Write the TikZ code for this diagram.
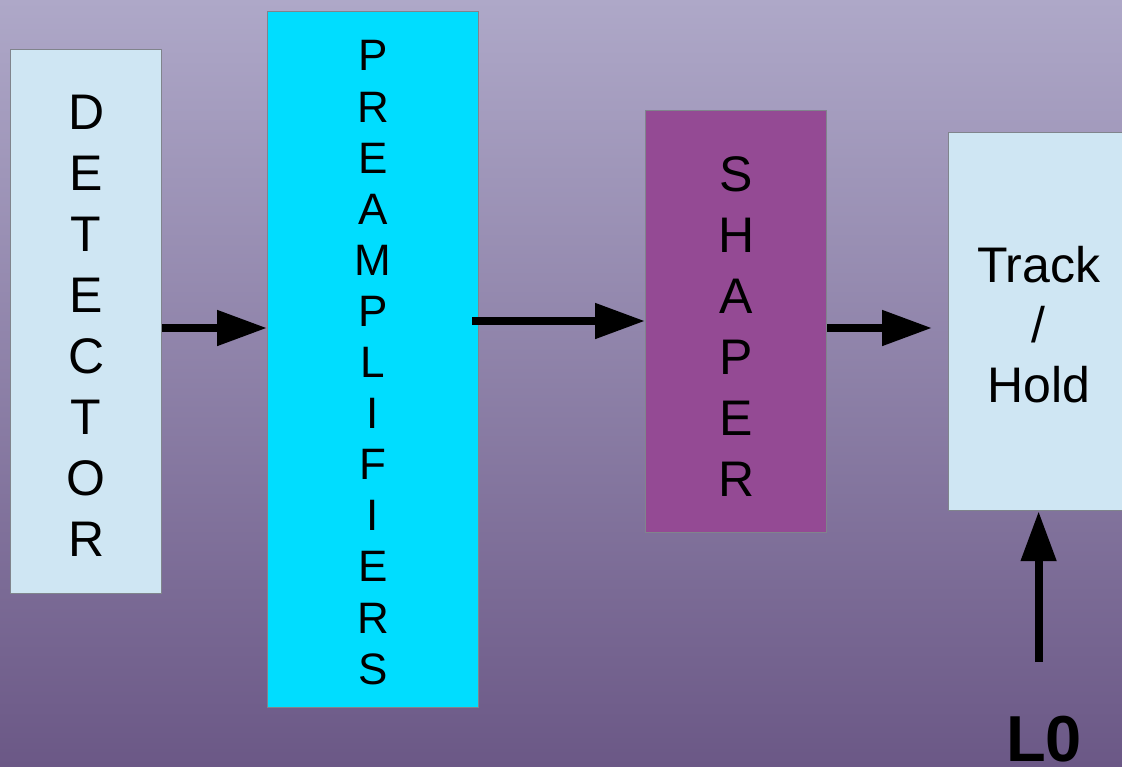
\documentclass[tikz,border=0pt]{standalone}
\usepackage{fontspec}
\setmainfont{Liberation Sans}
\usetikzlibrary{arrows.meta}
\definecolor{bgtop}{RGB}{174,168,200}
\definecolor{bgbot}{RGB}{107,88,134}
\definecolor{boxedge}{RGB}{128,132,140}
\definecolor{palefill}{RGB}{207,230,243}
\definecolor{cyanfill}{RGB}{0,221,255}
\definecolor{purplefill}{RGB}{148,74,148}
\begin{document}
\begin{tikzpicture}[x=1pt,y=-1pt,
  block/.style={draw=boxedge, line width=1.2pt, inner sep=0pt, anchor=north west},
  caption/.style={inner sep=0pt, align=center},
  bigtext/.style={font=\fontsize{50}{61}\selectfont},
  flow/.style={line width=8pt, -{Triangle[length=50pt,width=34pt]}}]
\useasboundingbox (0,0) rectangle (1122,766);
% background
\shade[top color=bgtop, bottom color=bgbot] (0,0) rectangle (1122,766);

% signal chain blocks
\node[block, fill=palefill, minimum width=151pt, minimum height=544pt] (det) at (10,49) {};
\node[block, fill=cyanfill, minimum width=211pt, minimum height=696pt] (pre) at (267,11) {};
\node[block, fill=purplefill, minimum width=181pt, minimum height=422pt] (sha) at (645,110) {};
\node[block, fill=palefill, minimum width=180pt, minimum height=378pt] (th) at (948,132) {};

% block captions, one letter per line
\node[caption, bigtext] (detl) at ([yshift=-4pt]det.center) {D\\E\\T\\E\\C\\T\\O\\R};
\node[caption, font=\fontsize{44}{51.1}\selectfont] (prel) at ([yshift=-3pt]pre.center)
  {P\\R\\E\\A\\M\\P\\L\\I\\F\\I\\E\\R\\S};
\node[caption, bigtext] (shal) at ([yshift=-5pt]sha.center) {S\\H\\A\\P\\E\\R};
\node[caption, font=\fontsize{50}{60}\selectfont] (thl) at ([yshift=-3pt]th.center) {Track\\/\\Hold};

% trigger label
\node[font=\bfseries\fontsize{65}{65}\selectfont, anchor=base, inner sep=0pt, text depth=0pt] (l0) at (1044,761) {L0};
\coordinate (trig) at (th.south |- 0,662);

% connectors
\draw[flow] (det.east |- 0,328) -- (pre.west |- 0,328);
\draw[flow] ([xshift=-7pt]pre.east |- 0,321) -- (sha.west |- 0,321);
\draw[flow] (sha.east |- 0,328) -- ([xshift=-16pt]th.west |- 0,328);
\draw[flow] (trig) -- (th.south);
\end{tikzpicture}
\end{document}
